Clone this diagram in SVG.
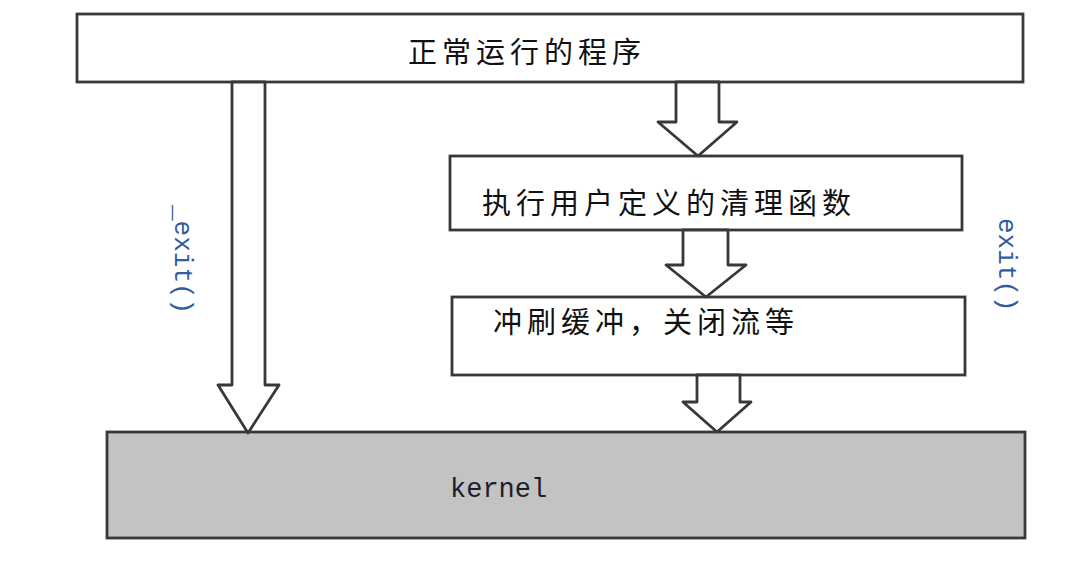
<svg xmlns="http://www.w3.org/2000/svg" width="1072" height="564" viewBox="0 0 1072 564">
  <defs>
    <style>
      .box { fill: #ffffff; stroke: #383838; stroke-width: 2.8; }
      .kbox { fill: #c3c3c3; stroke: #383838; stroke-width: 2.8; }
      .cjk { font-family: "Noto Sans CJK SC", "Liberation Sans", sans-serif; font-size: 29px; fill: #111; letter-spacing: 5px; }
      .mono { font-family: "Liberation Mono", "DejaVu Sans Mono", monospace; font-size: 26px; fill: #2f5c9e; }
      .ktext { font-family: "Liberation Mono", "DejaVu Sans Mono", monospace; font-size: 27px; fill: #1e1e2a; }
      .arrow { fill: #ffffff; stroke: #383838; stroke-width: 2.8; stroke-linejoin: round; }
    </style>
  </defs>
  <rect width="1072" height="564" fill="#ffffff"/>

  <g id="node-program">
    <rect class="box" x="77" y="14" width="946" height="68"/>
    <text class="cjk" x="408" y="63">正常运行的程序</text>
  </g>

  <g id="node-cleanup">
    <rect class="box" x="450" y="156" width="512" height="74"/>
    <text class="cjk" x="482" y="214">执行用户定义的清理函数</text>
  </g>

  <g id="node-flush">
    <rect class="box" x="452" y="297" width="513" height="78"/>
    <text class="cjk" x="493" y="333">冲刷缓冲，关闭流等</text>
  </g>

  <g id="node-kernel">
    <rect class="kbox" x="107" y="432" width="918" height="106"/>
    <text class="ktext" x="450" y="497">kernel</text>
  </g>

  <g id="connectors">
    <polygon class="arrow" points="232,82 265,82 265,385 279,385 248,433 218,385 232,385"/>
    <text class="mono" transform="translate(175,205) rotate(90)">_exit()</text>

    <polygon class="arrow" points="676,82 719,82 719,122 737,122 698,156 658,122 676,122"/>
    <polygon class="arrow" points="683,230 728,230 728,265 746,265 706,297 666,265 683,265"/>
    <polygon class="arrow" points="697,375 740,375 740,402 751,402 717,432 683,402 697,402"/>
    <text class="mono" transform="translate(999,218) rotate(90)">exit()</text>
  </g>
</svg>
